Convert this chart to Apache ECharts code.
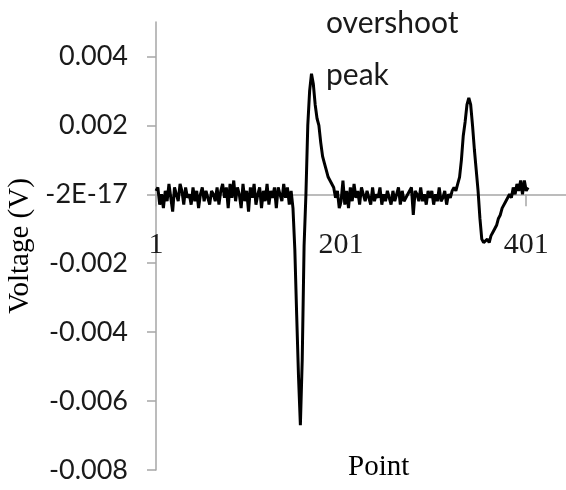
<!DOCTYPE html>
<html>
<head>
<meta charset="utf-8">
<script src="https://cdn.jsdelivr.net/npm/echarts@6/dist/echarts.min.js"></script>
<style>
  html, body { margin: 0; padding: 0; background: #fff; }
  #chart { width: 566px; height: 490px; }
</style>
</head>
<body>
<div id="chart"></div>
<script>
// sample spacing along the point axis (every 2nd point)
const pointStep = 2

// baseline before the first pulse, points 1..147
const baselineA = [
  0.0001, 0.0002, -0.0003, 0.0000, -0.0004, 0.0001, -0.0002, 0.0003, -0.0001, -0.0005,
  0.0002, 0.0000, -0.0002, 0.0003, 0.0001, -0.0003, 0.0002, -0.0001, 0.0000, -0.0003,
  0.0002, -0.0002, 0.0001, -0.0004, 0.0000, 0.0002, -0.0002, 0.0001, -0.0001, -0.0003,
  0.0001, 0.0000, -0.0002, 0.0002, -0.0003, 0.0001, 0.0003, -0.0001, 0.0002, -0.0004,
  0.0003, -0.0001, 0.0004, -0.0002, 0.0002, 0.0000, -0.0004, 0.0003, -0.0002, 0.0001,
  -0.0005, 0.0002, -0.0001, 0.0003, -0.0003, 0.0000, 0.0002, -0.0004, 0.0001, -0.0002,
  0.0003, -0.0003, 0.0001, -0.0001, 0.0002, -0.0004, 0.0002, 0.0000, -0.0002, 0.0003,
  -0.0001, 0.0002, -0.0003, 0.0001
]
// negative spike and overshoot peak
const pulseA = [
  -0.0004, -0.0016, -0.0035, -0.0053, -0.0067, -0.0048, -0.0015, 0.0000, 0.0020, 0.0030,
  0.0035, 0.0032, 0.0026, 0.0022, 0.0020, 0.0015, 0.0011, 0.0009, 0.0007, 0.0005,
  0.0004, 0.0003, 0.0002, -0.0001, 0.0001
]
// baseline between the pulses
const baselineB = [
  -0.0004, -0.0002, 0.0004, -0.0003, 0.0001, -0.0004, 0.0002, -0.0002, 0.0003, -0.0001,
  0.0001, -0.0003, 0.0002, 0.0000, -0.0002, 0.0001, -0.0001, -0.0003, 0.0002, -0.0002,
  0.0000, -0.0001, 0.0002, -0.0003, 0.0000, -0.0002, 0.0001, -0.0001, -0.0003, 0.0001,
  -0.0002, 0.0000, 0.0002, -0.0003, 0.0001, -0.0002, -0.0001, 0.0000, 0.0000, 0.0002,
  -0.0006, 0.0001, 0.0000, -0.0002, 0.0002, -0.0002, 0.0000, -0.0003, 0.0001, -0.0001,
  0.0001, -0.0003, 0.0000, -0.0002, 0.0002, -0.0002, -0.0001, 0.0001, -0.0003, 0.0000,
  -0.0001, 0.0001, 0.0002, 0.0001
]
// second peak and undershoot
const pulseB = [
  0.0003, 0.0005, 0.0010, 0.0017, 0.0021, 0.0026, 0.0028, 0.0026, 0.0020, 0.0013,
  0.0007, 0.0001, -0.0007, -0.0013, -0.0014, -0.0014, -0.0013, -0.0014, -0.0012, -0.0011,
  -0.0010, -0.0009, -0.0007, -0.0006, -0.0004, -0.0004, -0.0002, -0.0002, 0.0000, -0.0001,
  0.0002, 0.0000, 0.0003, 0.0001, 0.0004, 0.0000, 0.0004, 0.0001, 0.0002
]

const yTicks = [-0.008, -0.006, -0.004, -0.002, 0, 0.002, 0.004]
const yTickLabels = ['-0.008', '-0.006', '-0.004', '-0.002', '-2E-17', '0.002', '0.004']
const xTicks = [0, 200, 400]
const xTickLabels = ['1', '201', '401']

const voltage = baselineA.concat(pulseA, baselineB, pulseB)
const seriesData = voltage.map((v, i) => [i * pointStep, v])

function pick (ticks, labels, v) {
  const i = ticks.findIndex(t => Math.abs(t - Number(v)) < 1e-6)
  return i < 0 ? '' : labels[i]
}

const chart = echarts.init(document.getElementById('chart'))

const option = {
  animation: false,
  backgroundColor: '#fff',
  title: {
    text: 'overshoot\npeak',
    left: 326,
    top: -3,
    padding: 0,
    textStyle: {
      fontFamily: 'Lato, sans-serif',
      fontSize: 30,
      fontWeight: 'normal',
      color: '#1a1a1a',
      lineHeight: 52
    }
  },
  graphic: [
    {
      type: 'text',
      left: 348,
      top: 453,
      style: {
        text: 'Point',
        font: '29px "Liberation Serif", serif',
        fill: '#000'
      }
    }
  ],
  grid: {
    left: 156,
    top: 22,
    width: 410,
    height: 448,
    outerBoundsMode: 'none'
  },
  xAxis: [
    {
      // axis line through zero with its ticks
      type: 'value',
      min: 0,
      max: 443,
      axisLine: { onZero: true, lineStyle: { color: '#a6a6a6', width: 1.5 } },
      axisTick: { customValues: xTicks, length: 12, lineStyle: { color: '#a6a6a6', width: 1.5 } },
      axisLabel: { show: false },
      splitLine: { show: false }
    },
    {
      // carries the point labels, pulled up under the zero line
      type: 'value',
      position: 'bottom',
      min: 0,
      max: 443,
      interval: 200,
      axisLine: { show: false, onZero: false },
      axisTick: { show: false },
      axisLabel: {
        margin: -240,
        fontFamily: '"Liberation Serif", serif',
        fontSize: 30,
        color: '#1a1a1a',
        formatter: v => pick(xTicks, xTickLabels, v)
      },
      splitLine: { show: false }
    }
  ],
  yAxis: {
    type: 'value',
    min: -0.008,
    max: 0.005,
    name: 'Voltage (V)',
    nameLocation: 'middle',
    nameGap: 104,
    nameTextStyle: {
      fontFamily: '"Liberation Serif", serif',
      fontSize: 29,
      color: '#000'
    },
    axisLine: { show: true, lineStyle: { color: '#a6a6a6', width: 1.5 } },
    axisTick: { show: true, customValues: yTicks, length: 9, lineStyle: { color: '#a6a6a6', width: 1.5 } },
    axisLabel: {
      customValues: yTicks,
      margin: 28,
      fontFamily: 'Lato, sans-serif',
      fontSize: 27,
      color: '#1a1a1a',
      formatter: v => pick(yTicks, yTickLabels, v)
    },
    splitLine: { show: false }
  },
  series: [
    {
      type: 'line',
      xAxisIndex: 0,
      data: seriesData,
      showSymbol: false,
      symbol: 'none',
      lineStyle: { color: '#000', width: 3 },
      z: 3
    }
  ]
}

chart.setOption(option)
</script>
</body>
</html>
